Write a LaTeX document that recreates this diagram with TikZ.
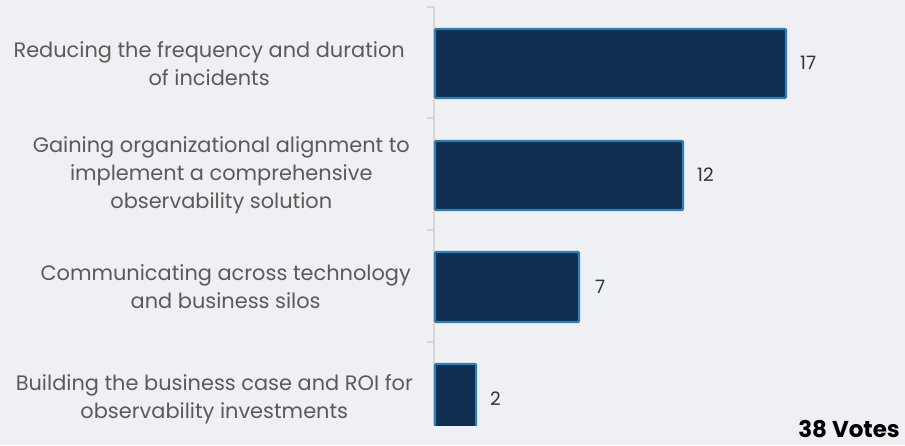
\documentclass[tikz,border=0pt]{standalone}
\usepackage{fontspec}
\setmainfont{Poppins}
\definecolor{bg}{HTML}{EFF0F4}
\definecolor{barfill}{HTML}{102E50}
\definecolor{barline}{HTML}{2E7DB5}
\definecolor{labtxt}{HTML}{5A5A5A}
\definecolor{valtxt}{HTML}{333333}
\definecolor{axisc}{HTML}{D4D6DA}
\begin{document}
\begin{tikzpicture}[x=1pt,y=-1pt,
  cat/.style={anchor=east,align=center,text=labtxt,font=\fontsize{20.9}{28}\selectfont,inner sep=0pt},
  bar/.style={fill=barfill,draw=barline,line width=2.2pt,rounded corners=1pt},
  val/.style={anchor=west,text=valtxt,font=\fontsize{18.5}{22}\selectfont,inner sep=0pt},
  axl/.style={draw=axisc,line width=1.5pt}]
\fill[bg] (0,0) rectangle (905,445);
\useasboundingbox (0,0) rectangle (905,445);
% axis
\coordinate (atop) at (434,7);
\coordinate (abot) at (434,425);
\draw[axl] (atop) -- (abot);
\foreach \y in {7,118,230,342} \draw[axl] (427,\y) -- (434,\y);
% bars
\begin{scope}
\clip (0,0) rectangle (905,425);
\draw[bar] (435,29) rectangle (786,98);
\draw[bar] (435,141) rectangle (683,210);
\draw[bar] (435,252) rectangle (579,322);
\draw[bar] (435,364) rectangle (476,440);
\end{scope}
% values
\node[val] (v1) at (800,63) {17};
\node[val] (v2) at (697,175) {12};
\node[val] (v3) at (595,287) {7};
\node[val] (v4) at (490,399) {2};
% labels
\node[cat] (c1) at (405,64) {Reducing the frequency and duration\\of incidents};
\node[cat] (c2) at (410,175) {Gaining organizational alignment to\\implement a comprehensive\\observability solution};
\node[cat] (c3) at (411,287) {Communicating across technology\\and business silos};
\node[cat] (c4) at (413,399) {Building the business case and ROI for\\observability investments};
\node[anchor=east,inner sep=0pt,font=\bfseries\fontsize{23}{26}\selectfont] (votes) at (900,429) {38 Votes};
\end{tikzpicture}
\end{document}
